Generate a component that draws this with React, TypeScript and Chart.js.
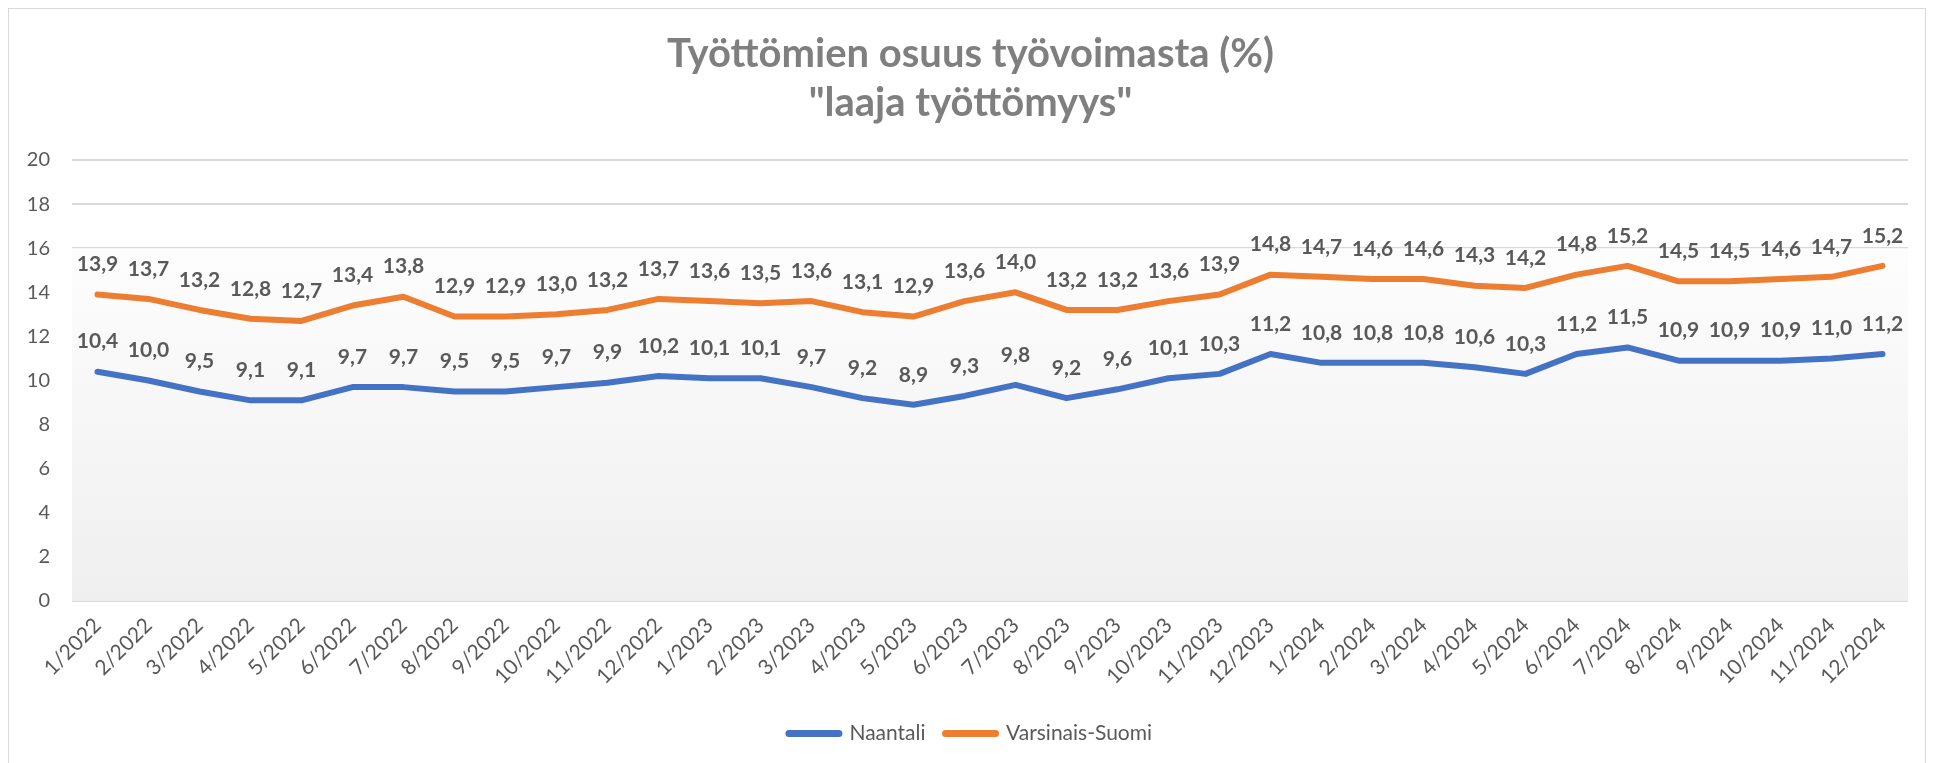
import React, { useEffect, useRef } from "react";
import { Chart, registerables } from "chart.js";

Chart.register(...registerables);

const TITLE_LINES = ["Työttömien osuus työvoimasta (%)", "\"laaja työttömyys\""];

const CATEGORIES = [
  "1/2022", "2/2022", "3/2022", "4/2022", "5/2022", "6/2022", "7/2022", "8/2022", "9/2022", "10/2022", "11/2022", "12/2022",
  "1/2023", "2/2023", "3/2023", "4/2023", "5/2023", "6/2023", "7/2023", "8/2023", "9/2023", "10/2023", "11/2023", "12/2023",
  "1/2024", "2/2024", "3/2024", "4/2024", "5/2024", "6/2024", "7/2024", "8/2024", "9/2024", "10/2024", "11/2024", "12/2024",
];

const NAANTALI = [
  10.4, 10.0, 9.5, 9.1, 9.1, 9.7, 9.7, 9.5, 9.5, 9.7, 9.9, 10.2,
  10.1, 10.1, 9.7, 9.2, 8.9, 9.3, 9.8, 9.2, 9.6, 10.1, 10.3, 11.2,
  10.8, 10.8, 10.8, 10.6, 10.3, 11.2, 11.5, 10.9, 10.9, 10.9, 11.0, 11.2,
];

const VARSINAIS_SUOMI = [
  13.9, 13.7, 13.2, 12.8, 12.7, 13.4, 13.8, 12.9, 12.9, 13.0, 13.2, 13.7,
  13.6, 13.5, 13.6, 13.1, 12.9, 13.6, 14.0, 13.2, 13.2, 13.6, 13.9, 14.8,
  14.7, 14.6, 14.6, 14.3, 14.2, 14.8, 15.2, 14.5, 14.5, 14.6, 14.7, 15.2,
];

const SERIES_NAMES = ["Naantali", "Varsinais-Suomi"];
const SERIES_COLORS = ["#4472C4", "#ED7D31"];

const Y_MIN = 0;
const Y_MAX = 20;
const Y_STEP = 2;
const SHADE_FROM = 16;

const FONT = "Lato, 'Open Sans', sans-serif";
const TEXT_GRAY = "#595959";

const fmt = (v: number) => v.toFixed(1).replace(".", ",");

const plotShade = {
  id: "plotShade",
  beforeDatasetsDraw(chart: any) {
    const { ctx, chartArea } = chart;
    const y = chart.scales.y;
    const top = y.getPixelForValue(SHADE_FROM);
    const bottom = y.getPixelForValue(Y_MIN);
    ctx.save();
    const g = ctx.createLinearGradient(0, top, 0, bottom);
    g.addColorStop(0, "#fdfdfd");
    g.addColorStop(1, "#efefef");
    ctx.fillStyle = g;
    ctx.fillRect(chartArea.left, top, chartArea.right - chartArea.left, bottom - top);
    ctx.restore();
  },
};

const valueLabels = {
  id: "valueLabels",
  afterDatasetsDraw(chart: any) {
    const { ctx } = chart;
    ctx.save();
    ctx.font = `bold 21px ${FONT}`;
    ctx.fillStyle = TEXT_GRAY;
    ctx.textAlign = "center";
    ctx.textBaseline = "middle";
    chart.data.datasets.forEach((ds: any, i: number) => {
      const meta = chart.getDatasetMeta(i);
      meta.data.forEach((pt: any, j: number) => {
        ctx.fillText(fmt(ds.data[j]), pt.x, pt.y - 30);
      });
    });
    ctx.restore();
  },
};

// Centre title and legend on the whole frame rather than on the padded box
const centreShift = {
  id: "centreShift",
  afterLayout(chart: any) {
    const s = 12;
    for (const box of [chart.titleBlock, chart.legend]) {
      if (box) {
        box.left += s;
        box.right += s;
      }
    }
  },
};

export default function App() {
  const canvasRef = useRef<HTMLCanvasElement | null>(null);

  useEffect(() => {
    document.body.style.overflow = "hidden";
    const canvas = canvasRef.current;
    if (!canvas) return;
    const series = [NAANTALI, VARSINAIS_SUOMI];
    const chart = new Chart(canvas, {
      type: "line",
      data: {
        labels: CATEGORIES,
        datasets: series.map((data, i) => ({
          label: SERIES_NAMES[i],
          data,
          borderColor: SERIES_COLORS[i],
          backgroundColor: SERIES_COLORS[i],
          borderWidth: 6,
          borderJoinStyle: "round",
          borderCapStyle: "round",
          pointRadius: 0,
          pointHoverRadius: 0,
          tension: 0,
          fill: false,
        })),
      },
      options: {
        animation: false,
        responsive: true,
        maintainAspectRatio: false,
        events: [],
        layout: { padding: { left: 0, right: 17, top: 0, bottom: 15 } },
        scales: {
          x: {
            offset: true,
            grid: { display: false, drawTicks: false },
            border: { display: false },
            ticks: {
              autoSkip: false,
              minRotation: 45,
              maxRotation: 45,
              padding: 12,
              color: TEXT_GRAY,
              font: { family: FONT, size: 21 },
            },
            afterFit(scale: any) {
              scale.height = 102;
            },
          },
          y: {
            min: Y_MIN,
            max: Y_MAX,
            grid: { color: "#d9d9d9", lineWidth: 2, drawTicks: false },
            border: { display: false },
            ticks: {
              stepSize: Y_STEP,
              padding: 22,
              color: TEXT_GRAY,
              font: { family: FONT, size: 20 },
            },
            afterFit(scale: any) {
              scale.width = 63;
            },
          },
        },
        plugins: {
          title: {
            display: true,
            text: TITLE_LINES,
            color: "#7f7f7f",
            font: { family: FONT, size: 40, weight: "bold", lineHeight: 49 / 40 },
            padding: { top: 21, bottom: 32 },
          },
          legend: {
            display: true,
            position: "bottom",
            labels: {
              usePointStyle: true,
              pointStyleWidth: 50,
              padding: 20,
              color: TEXT_GRAY,
              font: { family: FONT, size: 21 },
              generateLabels: () =>
                SERIES_NAMES.map((name, i) => ({
                  text: name,
                  fillStyle: SERIES_COLORS[i],
                  strokeStyle: SERIES_COLORS[i],
                  lineWidth: 7,
                  lineCap: "round",
                  pointStyle: "line",
                  hidden: false,
                  datasetIndex: i,
                  fontColor: TEXT_GRAY,
                })),
            },
          },
          tooltip: { enabled: false },
        },
      },
      plugins: [plotShade, valueLabels, centreShift],
    } as any);
    return () => chart.destroy();
  }, []);

  return (
    <div style={{ width: 1918, height: 762, border: "1px solid #d9d9d9", boxSizing: "border-box", background: "#fff" }}>
      <div style={{ position: "relative", width: 1916, height: 760 }}>
        <canvas ref={canvasRef} />
      </div>
    </div>
  );
}
